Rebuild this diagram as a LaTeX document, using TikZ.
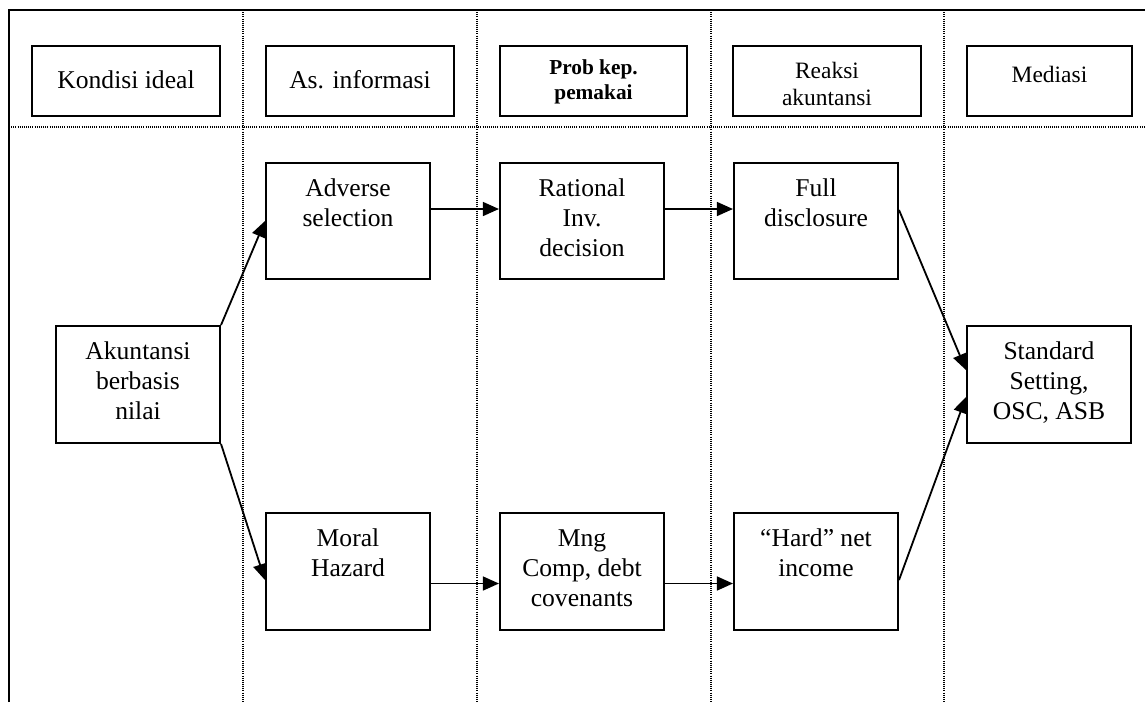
\documentclass[tikz,border=0pt]{standalone}
\usepackage{fontspec}
\setmainfont{Liberation Serif}
\usetikzlibrary{calc,arrows.meta}

\newcommand{\isikotak}[4]{\parbox[c][#2][t]{#1}{\centering\vspace*{#3}\strut#4}}

\tikzset{
  kotak/.style={draw, line width=0.95pt, inner sep=0pt, font=\fontsize{12}{14}\selectfont},
  garistitik/.style={line width=0.55pt, dash pattern=on 0.45pt off 0.55pt},
  panah/.style={line width=0.85pt, -{Triangle[length=7.5pt,width=6.5pt]}}
}

\begin{document}
\begin{tikzpicture}[x=0.4688pt, y=-0.4688pt]

\useasboundingbox (0,0) rectangle (1145,702);

\coordinate (TL) at (9,10);
\coordinate (TR) at (1145,10);
\coordinate (BL) at (9,702);
\coordinate (ML) at (9,127);
\coordinate (MR) at (1145,127);

\draw[line width=0.95pt] (BL) -- (TL) -- (TR);
\draw[garistitik] (ML) -- (MR);
\foreach \x in {243,477,711,944}
  \draw[garistitik] (\x,10) -- (\x,702);

% baris judul
\node[kotak] (kondisi) at (126,81) {\isikotak{87.7pt}{32.8pt}{10pt}{Kondisi ideal}};
\node[kotak] (asinfo) at (360,81) {\isikotak{87.7pt}{32.8pt}{10pt}{As. informasi}};
\node[kotak, font=\fontsize{10}{11.5}\selectfont\bfseries] (prob) at (593.5,81) {\isikotak{87.7pt}{32.8pt}{5.5pt}{Prob kep.\\pemakai}};
\node[kotak, font=\fontsize{11}{12.5}\selectfont] (reaksi) at (827,81) {\isikotak{87.7pt}{32.8pt}{6.5pt}{Reaksi\\akuntansi}};
\node[kotak, font=\fontsize{11}{12.5}\selectfont] (mediasi) at (1049.5,81) {\isikotak{77.4pt}{32.8pt}{8.5pt}{Mediasi}};

% isi
\node[kotak] (akun) at (138,384.5) {\isikotak{76.9pt}{54.8pt}{6.1pt}{Akuntansi\\berbasis\\nilai}};
\node[kotak] (adv) at (348,221) {\isikotak{76.9pt}{54.8pt}{6.1pt}{Adverse\\selection}};
\node[kotak] (rat) at (582,221) {\isikotak{76.9pt}{54.8pt}{6.1pt}{Rational\\Inv.\\decision}};
\node[kotak] (full) at (816,221) {\isikotak{76.9pt}{54.8pt}{6.1pt}{Full\\disclosure}};
\node[kotak] (std) at (1049,384.5) {\isikotak{76.9pt}{54.8pt}{6.1pt}{Standard\\Setting,\\OSC, ASB}};
\node[kotak] (moral) at (348,571.5) {\isikotak{76.9pt}{54.8pt}{6.1pt}{Moral\\Hazard}};
\node[kotak] (mng) at (582,571.5) {\isikotak{76.9pt}{54.8pt}{6.1pt}{Mng\\Comp, debt\\covenants}};
\node[kotak] (hard) at (816,571.5) {\isikotak{76.9pt}{54.8pt}{6.1pt}{“Hard” net\\income}};

\draw[panah] (akun.north east) -- (adv.west);
\draw[panah] (akun.south east) -- ($(moral.west)+(0,8.5)$);
\draw[panah] ($(adv.east)+(0,-12)$) -- ($(rat.west)+(0,-12)$);
\draw[panah] ($(rat.east)+(0,-12)$) -- ($(full.west)+(0,-12)$);
\draw[panah] ($(moral.east)+(0,12)$) -- ($(mng.west)+(0,12)$);
\draw[panah] ($(mng.east)+(0,12)$) -- ($(hard.west)+(0,12)$);
\draw[panah] ($(full.east)+(0,-11)$) -- ($(std.west)+(0,-14.5)$);
\draw[panah] ($(hard.east)+(0,8.5)$) -- ($(std.west)+(0,12.5)$);

\end{tikzpicture}
\end{document}
